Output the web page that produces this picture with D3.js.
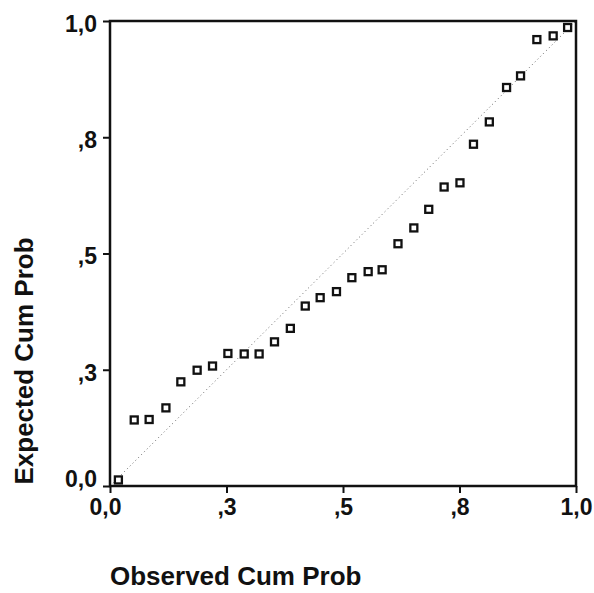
<!DOCTYPE html>
<html>
<head>
<meta charset="utf-8">
<script src="https://cdn.jsdelivr.net/npm/d3@7"></script>
<style>
  body { margin: 0; background: #fff; }
  svg { display: block; font-family: "Liberation Sans", Arial, sans-serif; }
  .axis text { font-size: 23px; font-weight: bold; fill: #111; }
  .axis line { stroke: #111; stroke-width: 2; }
  .title { font-size: 26px; font-weight: bold; fill: #111; }
</style>
</head>
<body>
<div id="chart"></div>
<script>
// P-P plot values
const observed = [0.018, 0.052, 0.084, 0.120, 0.152, 0.187, 0.220, 0.253, 0.288, 0.320,
                  0.353, 0.387, 0.419, 0.451, 0.486, 0.519, 0.554, 0.584, 0.618, 0.652,
                  0.684, 0.717, 0.751, 0.780, 0.814, 0.851, 0.881, 0.916, 0.951, 0.982];
const expected = [0.013, 0.142, 0.143, 0.168, 0.224, 0.249, 0.258, 0.285, 0.284, 0.284,
                  0.310, 0.339, 0.387, 0.405, 0.418, 0.448, 0.461, 0.465, 0.521, 0.555,
                  0.595, 0.643, 0.652, 0.735, 0.783, 0.857, 0.882, 0.960, 0.968, 0.986];
const tickValues = [0, 0.25, 0.5, 0.75, 1];
const tickLabels = ["0,0", ",3", ",5", ",8", "1,0"];

const margin = {top: 21, right: 18, bottom: 107, left: 110};
const totalWidth = 594, totalHeight = 593;
const width = totalWidth - margin.left - margin.right;
const height = totalHeight - margin.top - margin.bottom;

const svg = d3.select('#chart').append('svg')
  .attr('width', totalWidth)
  .attr('height', totalHeight);

const chart = svg.append('g')
  .attr('transform', `translate(${margin.left}, ${margin.top})`);

const x = d3.scaleLinear().domain([0, 1]).range([0, width]);
const y = d3.scaleLinear().domain([0, 1]).range([height, 0]);

// diagonal reference line
chart.append('line')
  .attr('x1', x(0)).attr('y1', y(0))
  .attr('x2', x(1)).attr('y2', y(1))
  .attr('stroke', '#666')
  .attr('stroke-width', 1)
  .attr('stroke-dasharray', '1,3');

// axes
const xAxis = chart.append('g')
  .attr('class', 'axis')
  .attr('transform', `translate(0, ${height})`)
  .call(d3.axisBottom(x).tickValues(tickValues)
    .tickFormat((d, i) => tickLabels[i]).tickSize(7).tickSizeOuter(0).tickPadding(6));

const yAxis = chart.append('g')
  .attr('class', 'axis')
  .call(d3.axisLeft(y).tickValues(tickValues)
    .tickFormat((d, i) => tickLabels[i]).tickSize(7).tickSizeOuter(0).tickPadding(6));

xAxis.select('.domain').remove();
yAxis.select('.domain').remove();
xAxis.selectAll('text').filter(d => d === 0).attr('dx', -5);
yAxis.selectAll('text').attr('dy', '0.45em');
// lowest y label sits above its tick in the original
yAxis.selectAll('text').filter(d => d === 0).attr('dy', '0.0em');

// frame
chart.append('rect')
  .attr('x', x(0)).attr('y', y(1))
  .attr('width', x(1) - x(0))
  .attr('height', y(0) - y(1))
  .attr('fill', 'none')
  .attr('stroke', '#111')
  .attr('stroke-width', 2.5);

// points
chart.append('g')
  .selectAll('rect')
  .data(observed.map((d, i) => ({obs: d, exp: expected[i]})))
  .enter().append('rect')
  .attr('x', d => x(d.obs) - 3.5)
  .attr('y', d => y(d.exp) - 3.5)
  .attr('width', 7)
  .attr('height', 7)
  .attr('fill', '#fff')
  .attr('stroke', '#111')
  .attr('stroke-width', 2.3);

// axis titles
svg.append('text')
  .attr('class', 'title')
  .attr('x', 110)
  .attr('y', 585)
  .text('Observed Cum Prob');

svg.append('text')
  .attr('class', 'title')
  .attr('transform', `translate(33, 361) rotate(-90)`)
  .attr('text-anchor', 'middle')
  .text('Expected Cum Prob');
</script>
</body>
</html>
